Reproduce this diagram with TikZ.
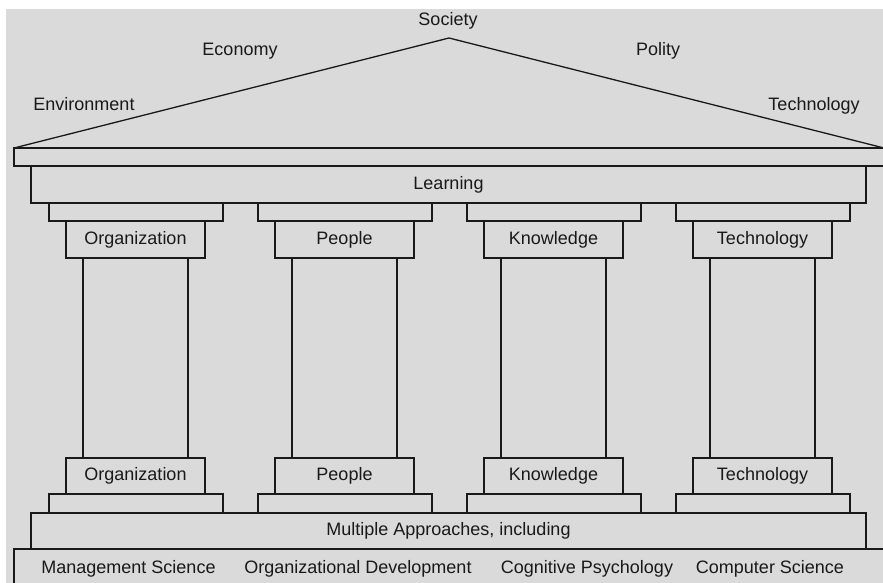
\documentclass[tikz,border=0pt]{standalone}
\usepackage{fontspec}
\setmainfont{Liberation Sans}
\definecolor{bggray}{RGB}{218,218,218}
\definecolor{ink}{RGB}{25,25,25}
\begin{document}
\begin{tikzpicture}[x=1pt,y=-1pt,
  every node/.style={font=\fontsize{18}{21}\selectfont, text=ink, inner sep=0pt, outer sep=0pt},
  frame/.style={draw=ink, line width=1.3pt, fill=bggray, rectangle, text height=13pt, text depth=4pt},
  lbl/.style={anchor=base}]
\useasboundingbox (0,0) rectangle (883,582);
\clip (0,0) rectangle (883,582);
\fill[bggray] (6,9) rectangle (900,600);
% roof
\coordinate (rl) at (14,148);
\coordinate (rt) at (449,38);
\coordinate (rr) at (884,148);
\draw[ink, line width=1.3pt, line join=miter] (rl) -- (rt) -- (rr);
\node[frame, minimum width=890pt, minimum height=18pt, anchor=north west] (slab) at (14,148) {};
\node[frame, minimum width=835pt, minimum height=37pt] (learning) at (448.5,184.5) {Learning};
% roof labels
\node[lbl] (society) at (448,25) {Society};
\node[lbl] (economy) at (240,55) {Economy};
\node[lbl] (polity) at (658,55) {Polity};
\node[lbl] (environment) at (84,110) {Environment};
\node[lbl] (rtech) at (814,110) {Technology};
% pillars
\foreach \d/\t/\n in {0/Organization/a, 209/People/b, 418/Knowledge/c, 627/Technology/d}{
  \node[frame, minimum width=174pt, minimum height=18pt] (cap\n) at (136+\d,212) {};
  \node[frame, minimum width=139pt, minimum height=37pt] (top\n) at (135.5+\d,239.5) {\t};
  \node[frame, minimum width=105pt, minimum height=200pt] (shaft\n) at (135.5+\d,358) {};
  \node[frame, minimum width=139pt, minimum height=36pt] (bot\n) at (135.5+\d,476) {\t};
  \node[frame, minimum width=174pt, minimum height=19pt] (base\n) at (136+\d,503.5) {};
}
\node[frame, minimum width=835pt, minimum height=36pt] (multi) at (448.5,531) {Multiple Approaches, including};
\node[frame, minimum width=900pt, minimum height=60pt, anchor=north west] (band) at (14,549) {};
\node[lbl] (ms) at (128.5,573) {Management Science};
\node[lbl] (od) at (358,573) {Organizational Development};
\node[lbl] (cp) at (587,573) {Cognitive Psychology};
\node[lbl] (cs) at (770,573) {Computer Science};
\end{tikzpicture}
\end{document}
